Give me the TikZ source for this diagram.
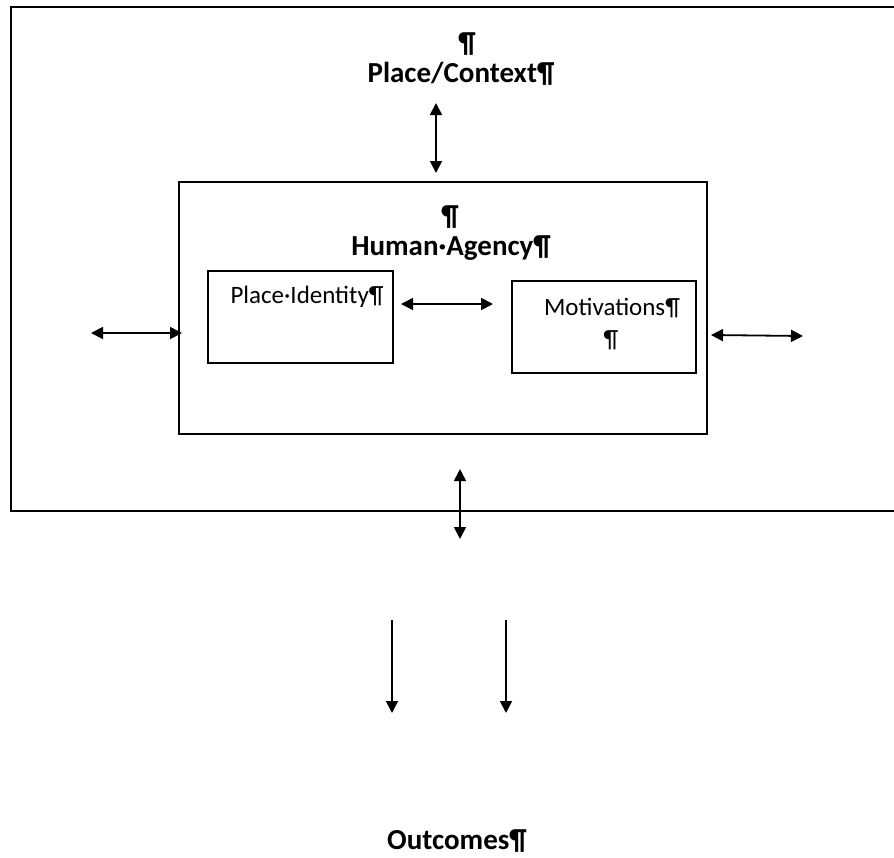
\documentclass[tikz,border=0pt]{standalone}
\usepackage{fontspec}
\setmainfont{Carlito}
\usetikzlibrary{arrows.meta}

\tikzset{
  frame/.style={draw=black, line width=1.8pt, fill=none},
  boxed/.style={draw=black, line width=1.8pt, inner sep=0pt, anchor=north west},
  heading/.style={inner sep=0pt, anchor=base, font=\fontsize{29}{34}\selectfont\bfseries},
  label/.style={inner sep=0pt, anchor=base, font=\fontsize{25}{30}\selectfont},
  link/.style={line width=1.8pt, {Triangle[length=12pt,width=12pt]}-{Triangle[length=12pt,width=12pt]}},
  oneway/.style={line width=1.8pt, -{Triangle[length=12pt,width=12pt]}}
}

\begin{document}
\begin{tikzpicture}[x=1pt, y=-1pt]
  \useasboundingbox (0,0) rectangle (894,857);
  \clip (0,0) rectangle (894,857);

  % outer context frame, open beyond the right edge
  \draw[frame] (900,7) -- (11,7) -- (11,511) -- (900,511);
  \node[heading] (pc0) at (467,52) {¶};
  \node[heading] (context) at (461,82) {Place/Context¶};

  % human agency box with its two inner boxes
  \node[boxed, minimum width=528pt, minimum height=252pt] (agency) at (178,181) {};
  \node[heading] (ha0) at (450,225) {¶};
  \node[heading] (human) at (451,255) {Human·Agency¶};

  \node[boxed, minimum width=185pt, minimum height=92pt] (identity) at (207,270) {};
  \node[label] (identitytext) at (307,303) {Place·Identity¶};

  \node[boxed, minimum width=184pt, minimum height=92pt] (motiv) at (511,280) {};
  \node[label] (motivtext) at (612,315) {Motivations¶};
  \node[label] (motiv0) at (611,347) {¶};

  \node[heading] (outcomes) at (457,849) {Outcomes¶};

  % connector end points
  \coordinate (topA) at (436,103);
  \coordinate (topB) at (436,173);
  \coordinate (leftA) at (91,333);
  \coordinate (leftB) at (182,333);
  \coordinate (midA) at (401,304);
  \coordinate (midB) at (493,304);
  \coordinate (rightA) at (711,335);
  \coordinate (rightB) at (803,336);
  \coordinate (botA) at (460,469);
  \coordinate (botB) at (460,539);
  \coordinate (downLA) at (392,620);
  \coordinate (downLB) at (392,713);
  \coordinate (downRA) at (506,620);
  \coordinate (downRB) at (506,713);

  \draw[link] (topA) -- (topB);
  \draw[link] (leftA) -- (leftB);
  \draw[link] (midA) -- (midB);
  \draw[link] (rightA) -- (rightB);
  \draw[link] (botA) -- (botB);
  \draw[oneway] (downLA) -- (downLB);
  \draw[oneway] (downRA) -- (downRB);
\end{tikzpicture}
\end{document}
